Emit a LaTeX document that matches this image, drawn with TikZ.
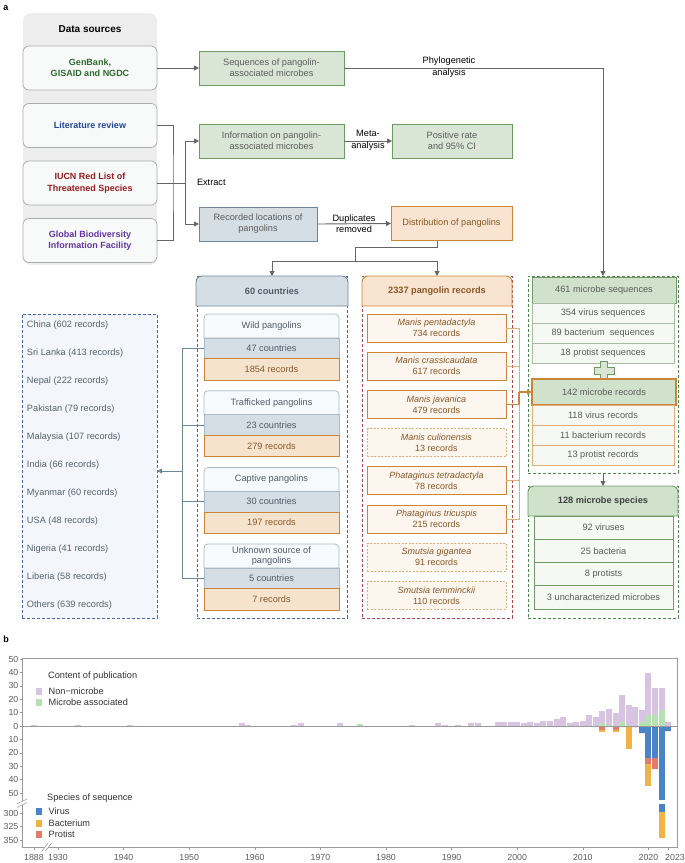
\documentclass[tikz,border=0pt]{standalone}
\usepackage{fontspec}
\setmainfont{Liberation Sans}
\usepackage{xcolor}
\usetikzlibrary{positioning, arrows.meta, calc}

% colours
\definecolor{srcbg}{HTML}{EDEDED}
\definecolor{srcfill}{HTML}{F8F9F9}
\definecolor{srcline}{HTML}{ABABAB}
\definecolor{gbtxt}{HTML}{2F6B2F}
\definecolor{littxt}{HTML}{23479A}
\definecolor{iucntxt}{HTML}{9B1C1C}
\definecolor{gbiftxt}{HTML}{6236A6}
\definecolor{grnfill}{HTML}{D9E6D5}
\definecolor{grnhead}{HTML}{D0E2CB}
\definecolor{grnline}{HTML}{6F9A66}
\definecolor{grnrow}{HTML}{F5F8F3}
\definecolor{grnrowline}{HTML}{A7BCA3}
\definecolor{grndash}{HTML}{4E8A4E}
\definecolor{bluefill}{HTML}{D5DEE5}
\definecolor{blueline}{HTML}{6E8799}
\definecolor{subfill}{HTML}{F7FAFD}
\definecolor{subline}{HTML}{A9B9C6}
\definecolor{bluedash}{HTML}{4866B0}
\definecolor{listfill}{HTML}{F3F7FD}
\definecolor{orfill}{HTML}{F8E4D0}
\definecolor{orrow}{HTML}{F6E3CE}
\definecolor{orline}{HTML}{CC8438}
\definecolor{orlight}{HTML}{E2AD78}
\definecolor{sppfill}{HTML}{FDF6EF}
\definecolor{redash}{HTML}{B04848}
\definecolor{txtgrey}{HTML}{5C5C5C}
\definecolor{txtslate}{HTML}{4F5B66}
\definecolor{listtxt}{HTML}{56616C}
\definecolor{txtbrown}{HTML}{8A5726}
\definecolor{arrgrey}{HTML}{666666}
\definecolor{axisgrey}{HTML}{9A9A9A}
\definecolor{nonmic}{HTML}{D8C4E2}
\definecolor{micas}{HTML}{B6E2B1}
\definecolor{virus}{HTML}{4A84C8}
\definecolor{bact}{HTML}{F3B244}
\definecolor{prot}{HTML}{E47C6C}

\tikzset{
  txt/.style={inner sep=1pt, outer sep=0pt, align=center, font=\fontsize{9.2}{11}\selectfont},
  srcbox/.style={txt, draw=srcline, fill=srcfill, line width=0.7pt, rounded corners=6pt, minimum width=134pt, minimum height=44pt, font=\fontsize{9}{11.5}\selectfont\bfseries},
  procbox/.style={txt, line width=0.9pt, minimum height=34pt, text=txtgrey},
  grnbox/.style={procbox, draw=grnline, fill=grnfill},
  blubox/.style={procbox, draw=blueline, fill=bluefill},
  orbox/.style={procbox, draw=orline, fill=orfill, text=txtbrown},
  flow/.style={arrgrey, line width=0.9pt, -{Triangle[length=5pt,width=5pt]}},
  link/.style={arrgrey, line width=0.9pt},
  clink/.style={blueline, line width=0.8pt},
  cflow/.style={clink, -{Triangle[length=5pt,width=5pt]}},
  olink/.style={orlight, line width=0.8pt},
  oflow/.style={orline, line width=1.1pt, -{Triangle[length=5pt,width=5pt]}},
  note/.style={txt, font=\fontsize{9.2}{11.5}\selectfont},
  hdtxt/.style={txt, font=\fontsize{9.2}{11}\selectfont\bfseries},
  grpframe/.style={draw, dash pattern=on 3pt off 2pt, line width=0.8pt, minimum width=150pt, inner sep=0pt, outer sep=0pt},
  rowbox/.style={txt, minimum width=135pt, line width=0.7pt},
  sppbox/.style={txt, minimum width=139pt, minimum height=28pt, fill=sppfill, text=txtbrown, font=\fontsize{9}{11}\selectfont},
  sppsolid/.style={draw=orline, line width=0.9pt},
  sppdash/.style={draw=orlight, line width=0.6pt, dash pattern=on 2pt off 1.5pt},
  mrow/.style={txt, minimum width=142pt, minimum height=20pt, fill=grnrow, line width=0.7pt, text=txtgrey},
  axis/.style={axisgrey, line width=0.6pt},
  tick/.style={inner sep=0pt, font=\fontsize{8.8}{10}\selectfont, text=txtgrey},
  legtxt/.style={inner sep=0pt, anchor=west, font=\fontsize{9.2}{11}\selectfont, text=black!80}
}

\begin{document}
\begin{tikzpicture}[x=1pt, y=-1pt]
\useasboundingbox (0,0) rectangle (685,863);

% Panel a: data sources
\node[font=\fontsize{9}{11}\selectfont\bfseries] (pa) at (6,8) {a};
\fill[srcbg, rounded corners=8pt] (23,13) rectangle (157,265);
\node[txt, font=\fontsize{10}{12}\selectfont\bfseries] (dshead) at (90,29) {Data sources};
\node[srcbox, text=gbtxt] (gen) at (90,68) {GenBank,\\GISAID and NGDC};
\node[srcbox, text=littxt] (lit) at (90,125.5) {Literature review};
\node[srcbox, text=iucntxt] (iucn) at (90,183) {IUCN Red List of\\Threatened Species};
\node[srcbox, text=gbiftxt] (gbif) at (90,240.5) {Global Biodiversity\\Information Facility};

% Processing steps
\node[grnbox, minimum width=145pt] (seq) at (271.5,68) {Sequences of pangolin-\\associated microbes};
\node[grnbox, minimum width=145pt] (info) at (271.5,141) {Information on pangolin-\\associated microbes};
\node[grnbox, minimum width=120pt] (pos) at (452,141) {Positive rate\\and 95\% CI};
\node[blubox, minimum width=118pt] (loc) at (258,224) {Recorded locations of\\pangolins};
\node[orbox, minimum width=121pt] (dist) at (451.5,223.5) {Distribution of pangolins};

% Group frames
\node[grpframe, draw=bluedash, fill=listfill, minimum width=135pt, minimum height=304pt] (list) at (89.5,466) {};
\node[grpframe, draw=bluedash, minimum height=342pt] (ctry) at (272,447) {};
\node[grpframe, draw=redash, minimum height=342pt] (rcd) at (437,447) {};
\node[grpframe, draw=grndash, minimum height=197pt] (seqgrp) at (603,374.5) {};
\node[grpframe, draw=grndash, minimum height=132pt] (spcgrp) at (603,552) {};

% Arrows between steps
\draw[flow] (gen.east) -- (seq.west);
\draw[flow] (seq.east) -| (seqgrp.north);
\node[note] (phylo) at (449,67) {Phylogenetic\\analysis};
\coordinate (brk) at (173,183);
\coordinate (split) at (185,183);
\draw[link] (lit.east) -| (brk) |- (gbif.east);
\draw[link] (iucn.east) -- (split);
\draw[flow] (split) |- (info.west);
\draw[flow] (split) |- (loc.west);
\node[txt, anchor=west] (extr) at (196,182) {Extract};
\draw[flow] (info.east) -- (pos.west);
\node[note] (meta) at (368,140.5) {Meta-\\analysis};
\draw[flow] (loc.east) -- (dist.west);
\node[note] (dupl) at (354,223.5) {Duplicates\\removed};
\coordinate (fork) at (355,261);
\draw[link] (dist.south -| rcd.north) -- ++(0,7) -| (fork);
\draw[flow] (fork) -| (ctry.north);
\draw[flow] (fork) -| (rcd.north);

% 60 countries
\draw[draw=blueline, fill=bluefill, line width=0.9pt] (196,306) [rounded corners=6pt] -- (196,276) -- (348,276) [sharp corners] -- (348,306) -- cycle;
\node[hdtxt, text=txtslate] (ctryhd) at (272,291) {60 countries};
\foreach \ty/\ttl/\nc/\nr [count=\i] in {314/Wild pangolins/47 countries/1854 records, 390.7/Trafficked pangolins/23 countries/279 records, 467.4/Captive pangolins/30 countries/197 records, 544/{Unknown source of\\pangolins}/5 countries/7 records} {
  \draw[draw=subline, fill=subfill, line width=0.7pt] (204,\ty+24) [rounded corners=4pt] -- (204,\ty) -- (339,\ty) [sharp corners] -- (339,\ty+24) -- cycle;
  \node[txt, text=txtslate, font=\fontsize{9.2}{9.5}\selectfont] (t\i) at (271.5,\ty+12) {\ttl};
  \node[rowbox, fill=bluefill, draw=subline, minimum height=20.5pt, text=txtslate] (c\i) at (271.5,\ty+34.25) {\nc};
  \node[rowbox, fill=orrow, draw=orline, minimum height=21.5pt, text=txtbrown] (r\i) at (271.5,\ty+55.25) {\nr};
}
\draw[clink] (c1.west) -- ++(-22,0) |- (c4.west);
\draw[clink] (c2.west) -- ++(-22,0);
\draw[clink] (c3.west) -- ++(-22,0);
\coordinate (cb) at (182,471);
\draw[cflow] (cb) -- (cb -| list.east);

% Countries list
\foreach \ct [count=\i] in {China (602 records), Sri Lanka (413 records), Nepal (222 records), Pakistan (79 records), Malaysia (107 records), India (66 records), Myanmar (60 records), USA (48 records), Nigeria (41 records), Liberia (58 records), Others (639 records)}
  \node[note, anchor=west, text=listtxt] (l\i) at (26,325+28*\i-28) {\ct};

% 2337 pangolin records
\draw[draw=orline, fill=orfill, line width=0.9pt] (362,306) [rounded corners=6pt] -- (362,276) -- (512,276) [sharp corners] -- (512,306) -- cycle;
\node[hdtxt, text=txtbrown] (rcdhd) at (437,291) {2337 pangolin records};
\foreach \sp/\nr/\ls [count=\i] in {Manis pentadactyla/734/sppsolid, Manis crassicaudata/617/sppsolid, Manis javanica/479/sppsolid, Manis culionensis/13/sppdash, Phataginus tetradactyla/78/sppsolid, Phataginus tricuspis/215/sppsolid, Smutsia gigantea/91/sppdash, Smutsia temminckii/110/sppdash}
  \node[sppbox, \ls] (s\i) at (436.5,328+38.2*\i-38.2) {\textit{\sp}\\\nr\ records};
\draw[olink] (s1.east) -- ++(13,0) |- (s6.east);
\draw[olink] (s2.east) -- ++(13,0);
\draw[olink] (s5.east) -- ++(13,0);
\draw[olink, draw=orline, line width=1.1pt] (s3.east) -- ++(13,0) -- ++(0,-12);

% Microbe sequences and records
\node[txt, minimum width=144pt, minimum height=26pt, fill=grnhead, draw=grnline, line width=1pt, text=txtgrey] (m461) at (604,290) {461 microbe sequences};
\foreach \txt [count=\i] in {354 virus sequences, 89 bacterium\ \ sequences, 18 protist sequences}
  \node[mrow, draw=grnrowline] (sq\i) at (603,293+20*\i) {\txt};
\draw[draw=grnline, fill=grnfill, line width=0.8pt] (600.5,361.5) -- (607.5,361.5) -- (607.5,367.5) -- (614,367.5) -- (614,374.5) -- (607.5,374.5) -- (607.5,380.5) -- (600.5,380.5) -- (600.5,374.5) -- (594,374.5) -- (594,367.5) -- (600.5,367.5) -- cycle;
\node[txt, minimum width=144pt, minimum height=26pt, fill=grnhead, draw=orline, line width=1.1pt, text=txtgrey] (m142) at (604,392) {142 microbe records};
\foreach \txt [count=\i] in {118 virus records, 11 bacterium records, 13 protist records}
  \node[mrow, draw=orlight] (mr\i) at (603,395+20*\i) {\txt};
\coordinate (sb) at (519,392);
\draw[oflow] (sb) -- (sb -| m142.west);
\draw[flow] (seqgrp.south) -- (spcgrp.north);

% 128 microbe species
\draw[draw=grnline, fill=grnhead, line width=0.9pt] (528,516) [rounded corners=6pt] -- (528,486) -- (678,486) [sharp corners] -- (678,516) -- cycle;
\node[hdtxt, text=black!75] (spchd) at (603,501) {128 microbe species};
\foreach \txt [count=\i] in {92 viruses, 25 bacteria, 8 protists, 3 uncharacterized microbes}
  \node[mrow, draw=grnline, minimum width=139pt, minimum height=23.25pt] (ms\i) at (603.5,504.4+23.25*\i) {\txt};

% Panel b: publications and sequences per year
\node[font=\fontsize{9}{11}\selectfont\bfseries] (pb) at (6,639) {b};

% positive bars: year / total / microbe associated
\foreach \yr/\tot/\grn in {1888/1/0, 1933/1/0, 1941/1/0, 1958/2/0, 1959/1/0, 1966/1/0, 1967/2/0, 1973/2/0, 1976/1.5/1.5, 1984/1/0, 1988/2/0, 1989/1/0, 1991/1/0, 1993/2/0, 1994/2/0, 1997/3/0, 1998/3/0, 1999/3/0, 2000/3/0, 2001/2/0, 2002/3/0, 2003/2/0, 2004/4/1, 2005/4/0, 2006/5/0, 2007/7/0, 2008/2/0, 2009/3/0, 2010/4/0, 2011/8/0, 2012/7/0, 2013/11.5/2, 2014/13/1, 2015/10/0, 2016/23.5/3, 2017/16/1, 2018/14/0, 2019/12/3, 2020/39.5/8, 2021/28/8, 2022/28/12, 2023/3/0} {
  \pgfmathsetmacro{\bx}{\yr<1900 ? 34 : 58+(\yr-1930)*6.56}
  \fill[nonmic] (\bx-3,726) rectangle (\bx+3,726-1.34*\tot);
  \fill[micas] (\bx-3,726) rectangle (\bx+3,726-1.34*\grn);
}
% negative bars: year / virus / protist / bacterium
\foreach \yr/\vi/\pr/\ba in {2013/0/3/1.5, 2015/0/3/1.5, 2016/0/1/0, 2017/0/0/17.5, 2018/1/0/0, 2019/5/0/0, 2020/24/4/16.5, 2021/24/8/0, 2023/4/0/0} {
  \pgfmathsetmacro{\bx}{58+(\yr-1930)*6.56}
  \fill[virus] (\bx-3,726) rectangle (\bx+3,726+1.34*\vi);
  \fill[prot] (\bx-3,726+1.34*\vi) rectangle (\bx+3,726+1.34*\vi+1.34*\pr);
  \fill[bact] (\bx-3,726+1.34*\vi+1.34*\pr) rectangle (\bx+3,726+1.34*\vi+1.34*\pr+1.34*\ba);
}
% 2022 runs past the axis break
\fill[virus] (658.5,726) rectangle (664.5,800);
\fill[virus] (658.5,804) rectangle (664.5,812);
\fill[bact] (658.5,812) rectangle (664.5,838);

% Axes
\draw[axis] (22,658) rectangle (677,847);
\draw[axis] (22,726) -- (677,726);
\foreach \v in {0,10,...,50} {
  \draw[axis] (19.5,726-1.34*\v) -- (22,726-1.34*\v);
  \node[tick, anchor=east] (yp\v) at (18.5,726-1.34*\v) {\v};
}
\foreach \v in {10,20,...,50} {
  \draw[axis] (19.5,726+1.34*\v) -- (22,726+1.34*\v);
  \node[tick, anchor=east] (yn\v) at (18.5,726+1.34*\v) {\v};
}
\foreach \v in {300,325,350} {
  \draw[axis] (19.5,813+0.54*\v-162) -- (22,813+0.54*\v-162);
  \node[tick, anchor=east] (yb\v) at (18.5,813+0.54*\v-162) {\v};
}
\foreach \yr in {1930,1940,...,2020} {
  \draw[axis] (58+\yr*6.56-1930*6.56,847) -- (58+\yr*6.56-1930*6.56,850);
  \node[tick] (x\yr) at (58+\yr*6.56-1930*6.56,857) {\yr};
}
\draw[axis] (34,847) -- (34,850);
\node[tick] (x1888) at (34,857) {1888};
\draw[axis] (668.5,847) -- (668.5,850);
\node[tick] (x2023) at (675,857) {2023};

% axis breaks
\fill[white] (17,804) -- (27,799) -- (27,802.5) -- (17,807.5) -- cycle;
\draw[axis] (17,804) -- (27,799);
\draw[axis] (17,807.5) -- (27,802.5);
\fill[white] (42,851) -- (48,843) -- (51.5,843) -- (45.5,851) -- cycle;
\draw[axis] (42,851) -- (48,843);
\draw[axis] (45.5,851) -- (51.5,843);

% Legends
\node[legtxt] (leg1) at (48,676) {Content of publication};
\fill[nonmic] (35.5,687.5) rectangle (41.5,694.5);
\node[legtxt] (legnm) at (48.5,691) {Non−microbe};
\fill[micas] (35.5,699) rectangle (41.5,706);
\node[legtxt] (legma) at (48.5,702.5) {Microbe associated};
\node[legtxt] (leg2) at (47,798) {Species of sequence};
\fill[virus] (35.5,807.5) rectangle (41.5,814.5);
\node[legtxt] (legv) at (48.5,811) {Virus};
\fill[bact] (35.5,819.5) rectangle (41.5,826.5);
\node[legtxt] (legb) at (48.5,823) {Bacterium};
\fill[prot] (35.5,831) rectangle (41.5,838);
\node[legtxt] (legp) at (48.5,834.5) {Protist};
\end{tikzpicture}
\end{document}
